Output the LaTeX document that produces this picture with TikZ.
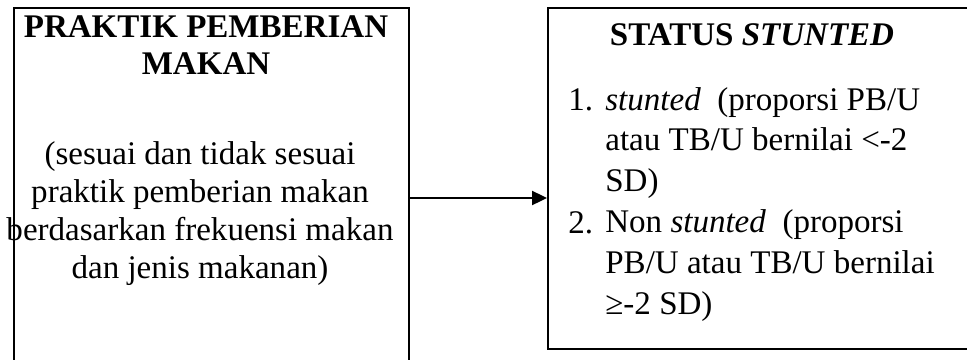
\documentclass[tikz,border=0pt]{standalone}
\usepackage{fontspec}
\setmainfont{Liberation Serif}
\usetikzlibrary{arrows.meta}

\tikzset{
  kotak/.style={draw, line width=0.9pt, inner sep=0pt, anchor=north west},
  teks/.style={inner sep=0pt},
  panah/.style={line width=1.1pt, -{Triangle[length=8.5pt,width=8pt]}}
}

\begin{document}
\begin{tikzpicture}[x=0.02cm,y=-0.02cm]
\useasboundingbox (0,0) rectangle (967,359);
\begin{scope}
\clip (0,0) rectangle (967,359);

% kotak
\node[kotak, minimum width=7.9cm, minimum height=7.6cm] (praktik) at (13,7) {};
\node[kotak, minimum width=8.6cm, minimum height=6.82cm] (status) at (547,7) {};

% isi kotak kiri (anchor base = baris terakhir)
\node[teks, anchor=base, align=center, font=\fontsize{18.8}{21}\selectfont\bfseries] (judulkiri) at (206,74) {PRAKTIK PEMBERIAN\\MAKAN};
\node[teks, anchor=base, align=center, font=\fontsize{18.8}{21.5}\selectfont] (isikiri) at (200,278) {(sesuai dan tidak sesuai\\praktik pemberian makan\\berdasarkan frekuensi makan\\dan jenis makanan)};

% isi kotak kanan
\node[teks, anchor=base, font=\fontsize{18.8}{21}\selectfont\bfseries] (judulkanan) at (752,45) {STATUS \textit{STUNTED}};
\node[teks, anchor=base west, font=\fontsize{18.8}{23.2}\selectfont] (no1) at (568,110) {1.};
\node[teks, anchor=base west, font=\fontsize{18.8}{23.2}\selectfont] (no2) at (568,233) {2.};
\node[teks, anchor=base west, align=left, font=\fontsize{18.8}{23.2}\selectfont] (isikanan) at (605,314) {\textit{stunted}\ \ (proporsi PB/U\\atau TB/U bernilai <-2\\SD)\\Non \textit{stunted}\ \ (proporsi\\PB/U atau TB/U bernilai\\≥-2 SD)};

% panah
\coordinate (garis) at (0,198);
\draw[panah] (praktik.east |- garis) -- (status.west |- garis);

\end{scope}
\end{tikzpicture}
\end{document}
